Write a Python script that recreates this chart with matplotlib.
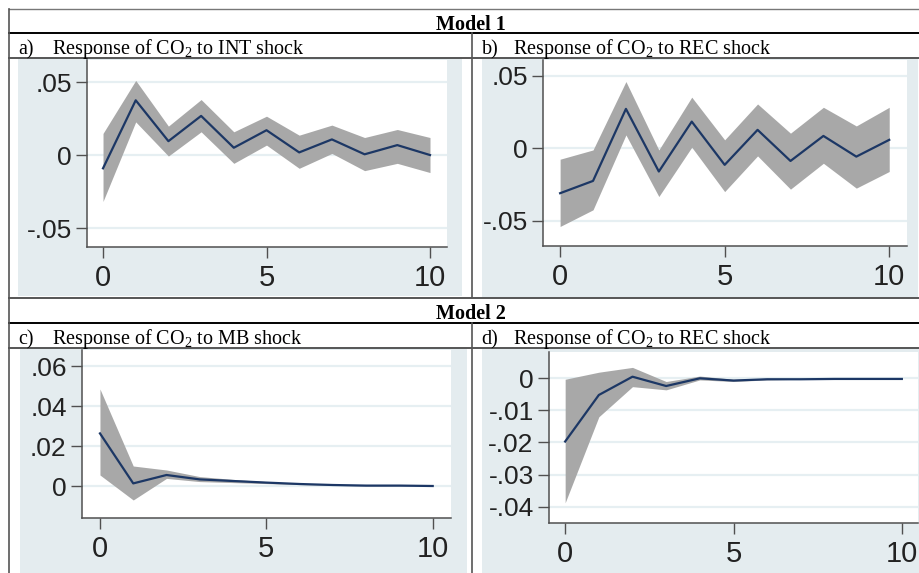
import numpy as np
import matplotlib
matplotlib.use("Agg")
import matplotlib.pyplot as plt
from matplotlib.patches import Rectangle

plt.rcParams['mathtext.fontset'] = 'custom'
plt.rcParams['mathtext.rm'] = 'Liberation Serif'
plt.rcParams['mathtext.default'] = 'regular'

steps = np.arange(11)

# model 1, a) CO2 to INT shock
irf_a = [-0.0091, 0.0375, 0.0095, 0.0268, 0.0050, 0.0170, 0.0018, 0.0107, 0.0005, 0.0068, 0.0000]
hi_a = [0.0148, 0.0511, 0.0198, 0.0380, 0.0159, 0.0266, 0.0136, 0.0205, 0.0120, 0.0175, 0.0120]
lo_a = [-0.0318, 0.0227, -0.0007, 0.0159, -0.0057, 0.0068, -0.0091, 0.0011, -0.0107, -0.0057, -0.0120]

# model 1, b) CO2 to REC shock
irf_b = [-0.0311, -0.0226, 0.0272, -0.0161, 0.0184, -0.0115, 0.0127, -0.0088, 0.0085, -0.0058, 0.0058]
hi_b = [-0.0076, -0.0012, 0.0461, -0.0012, 0.0353, 0.0058, 0.0306, 0.0104, 0.0283, 0.0154, 0.0283]
lo_b = [-0.0541, -0.0426, 0.0092, -0.0334, 0.0007, -0.0300, -0.0053, -0.0283, -0.0104, -0.0276, -0.0161]

# model 2, c) CO2 to MB shock
irf_c = [0.0263, 0.0013, 0.0055, 0.0033, 0.0025, 0.0017, 0.0010, 0.0005, 0.0002, 0.0002, 0.0000]
hi_c = [0.0485, 0.0100, 0.0080, 0.0047, 0.0033, 0.0022, 0.0013, 0.0008, 0.0003, 0.0002, 0.0000]
lo_c = [0.0055, -0.0070, 0.0038, 0.0022, 0.0017, 0.0012, 0.0007, 0.0003, 0.0000, 0.0000, 0.0000]

# model 2, d) CO2 to REC shock
irf_d = [-0.0197, -0.0052, 0.0005, -0.0024, 0.0000, -0.0007, -0.0003, -0.0003, -0.0002, -0.0002, -0.0002]
hi_d = [-0.0003, 0.0019, 0.0034, -0.0010, 0.0007, -0.0003, 0.0000, 0.0000, 0.0000, 0.0000, 0.0000]
lo_d = [-0.0388, -0.0120, -0.0026, -0.0036, -0.0005, -0.0010, -0.0005, -0.0003, -0.0003, -0.0003, -0.0003]

yt_a = [-0.05, 0, 0.05]
yl_a = ['-.05', '0', '.05']
yt_c = [0, 0.02, 0.04, 0.06]
yl_c = ['0', '.02', '.04', '.06']
yt_d = [-0.04, -0.03, -0.02, -0.01, 0]
yl_d = ['-.04', '-.03', '-.02', '-.01', '0']
xt = [0, 5, 10]

model_titles = ['Model 1', 'Model 2']
panel_tags = ['a)', 'b)', 'c)', 'd)']
panel_titles = ['Response of CO$_2$ to INT shock', 'Response of CO$_2$ to REC shock',
                'Response of CO$_2$ to MB shock', 'Response of CO$_2$ to REC shock']

W, H = 920, 573
BG = '#E4ECEF'
BAND = '#A8A8A8'
NAVY = '#1C3765'
AXC = '#505050'

fig = plt.figure(figsize=(9.2, 5.73), dpi=100)

def box(x0, y0, x1, y1):
    return [x0 / W, 1 - y1 / H, (x1 - x0) / W, (y1 - y0) / H]

base = fig.add_axes([0, 0, 1, 1])
base.set_xlim(0, W)
base.set_ylim(H, 0)
base.axis('off')

# graph region backgrounds
for (x0, y0, x1, y1) in [(18, 58, 462, 296), (482, 58, 918, 297),
                         (20, 348, 467, 573), (482, 348, 920, 573)]:
    base.add_patch(Rectangle((x0, y0), x1 - x0, y1 - y0, color=BG, lw=0))

# table rules
base.plot([9, 920], [9, 9], color='#777777', lw=1)
base.plot([9, 920], [33, 33], color='black', lw=1.4)
base.plot([9, 920], [57.5, 57.5], color='#555555', lw=1.4)
base.plot([9, 920], [297.5, 297.5], color='#555555', lw=1.4)
base.plot([9, 920], [323, 323], color='black', lw=1.4)
base.plot([9, 920], [347.5, 347.5], color='#555555', lw=1.4)
base.plot([9, 9], [9, 573], color='#555555', lw=1.2)
base.plot([472, 472], [33, 297], color='#555555', lw=1.2)
base.plot([472, 472], [323, 573], color='#555555', lw=1.2)

serif = dict(fontfamily='Liberation Serif', fontsize=14.5, va='baseline')
base.text(471, 29.5, model_titles[0], ha='center', fontweight='bold', **serif)
base.text(471, 319, model_titles[1], ha='center', fontweight='bold', **serif)
tag_pos = [(18, 52, 54), (482, 513, 54), (18, 52, 344), (481, 513, 344)]
for (tx, rx, by), tag, ttl in zip(tag_pos, panel_tags, panel_titles):
    base.text(tx, by, tag, ha='left', **serif)
    base.text(rx, by, ttl, ha='left', **serif)

panels = [
    dict(irf=irf_a, lo=lo_a, hi=hi_a, yt=yt_a, yl=yl_a, box=(87, 60, 447, 247),
         xlim=(-0.49, 10.52), ylim=(-0.063, 0.0651)),
    dict(irf=irf_b, lo=lo_b, hi=hi_b, yt=yt_a, yl=yl_a, box=(543, 60, 907, 246),
         xlim=(-0.52, 10.54), ylim=(-0.0676, 0.061)),
    dict(irf=irf_c, lo=lo_c, hi=hi_c, yt=yt_c, yl=yl_c, box=(82, 350, 451, 518),
         xlim=(-0.54, 10.55), ylim=(-0.016, 0.068)),
    dict(irf=irf_d, lo=lo_d, hi=hi_d, yt=yt_d, yl=yl_d, box=(549, 352, 918, 523),
         xlim=(-0.48, 10.48), ylim=(-0.0451, 0.0082)),
]

for p in panels:
    ax = fig.add_axes(box(*p['box']))
    ax.set_facecolor('white')
    ax.fill_between(steps, p['lo'], p['hi'], color=BAND, lw=0, zorder=2)
    ax.plot(steps, p['irf'], color=NAVY, lw=1.6, zorder=3)
    ax.set_xlim(*p['xlim'])
    ax.set_ylim(*p['ylim'])
    ax.set_yticks(p['yt'])
    ax.set_yticklabels(p['yl'])
    ax.set_xticks(xt)
    ax.set_xticklabels([str(v) for v in xt])
    ax.yaxis.grid(True, color='#E6EFF2', lw=1.6)
    ax.set_axisbelow(True)
    for s in ['top', 'right']:
        ax.spines[s].set_visible(False)
    for s in ['left', 'bottom']:
        ax.spines[s].set_color(AXC)
        ax.spines[s].set_linewidth(1.1)
    ax.tick_params(axis='both', direction='out', length=8, width=1, color=AXC)
    ax.tick_params(axis='y', labelsize=19, pad=3)
    ax.tick_params(axis='x', labelsize=21, pad=4)
    for lab in ax.get_xticklabels() + ax.get_yticklabels():
        lab.set_fontfamily('Liberation Sans')
        lab.set_color('#222222')

fig.savefig('out.png', dpi=100)
